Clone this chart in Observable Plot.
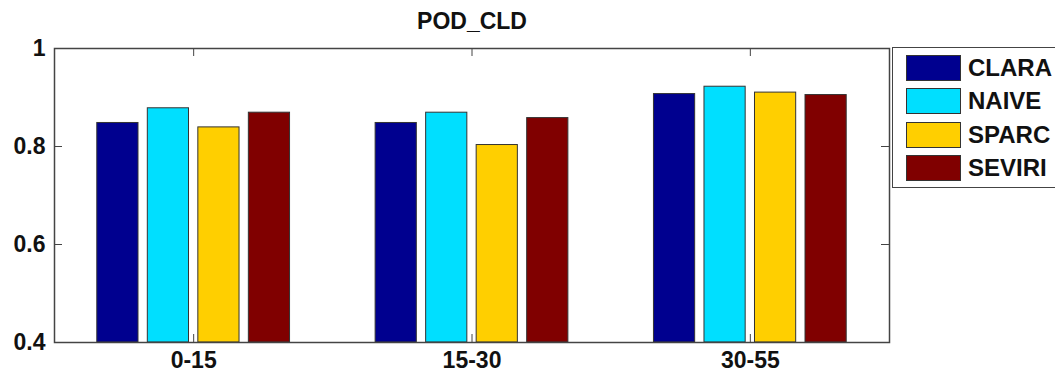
<!DOCTYPE html>
<html>
<head>
<meta charset="utf-8">
<script src="https://cdn.jsdelivr.net/npm/d3@7"></script>
<script src="https://cdn.jsdelivr.net/npm/@observablehq/plot@0.6"></script>
<style>
  html, body { margin: 0; padding: 0; background: #fff; overflow: hidden; }
  #wrap { position: relative; width: 1055px; height: 374px; font-family: "Liberation Sans", Arial, Helvetica, sans-serif; }
  #legend { position: absolute; left: 892px; top: 47px; width: 175px; height: 141px; border: 1.5px solid #444; box-sizing: border-box; background: #fff; }
  .sw { position: absolute; left: 13px; width: 55px; height: 26px; border: 1px solid #333; box-sizing: border-box; }
  .lb { position: absolute; left: 75px; font-size: 24px; line-height: 26px; color: #111; white-space: nowrap; font-weight: bold; }
</style>
</head>
<body>
<div id="wrap"></div>
<script>
const title = "POD_CLD";
const groups = ["0-15", "15-30", "30-55"];
const series = ["CLARA", "NAIVE", "SPARC", "SEVIRI"];
const CLARA  = [0.848, 0.848, 0.907];
const NAIVE  = [0.878, 0.869, 0.922];
const SPARC  = [0.839, 0.803, 0.910];
const SEVIRI = [0.869, 0.858, 0.905];
const colors = ["#00008F", "#00DFFF", "#FFCF00", "#800000"];
const yTicks = [0.4, 0.6, 0.8, 1];
const yTickLabels = ["0.4", "0.6", "0.8", "1"];

const values = {CLARA, NAIVE, SPARC, SEVIRI};
const step = 0.1815, barW = 0.148;
const rows = [];
groups.forEach((g, gi) => {
  series.forEach((s, si) => {
    const c = gi + 1 + (si - (series.length - 1) / 2) * step;
    rows.push({group: g, series: s, value: values[s][gi], x1: c - barW / 2, x2: c + barW / 2});
  });
});
const xTicks = groups.map((g, i) => i + 1);

const W = 1055, H = 374, mL = 54, mR = 166, mT = 48, mB = 32;
const pw = W - mL - mR, ph = H - mT - mB;
const tickLen = 8;
const fs = 23;

const chart = Plot.plot({
  width: W, height: H,
  marginLeft: mL, marginRight: mR, marginTop: mT, marginBottom: mB,
  x: {domain: [0.5, 3.5], axis: null},
  y: {domain: [0.4, 1], axis: null},
  color: {domain: series, range: colors},
  style: {fontFamily: "'Liberation Sans', Arial, Helvetica, sans-serif", fontSize: fs + "px", color: "#111", background: "#fff"},
  marks: [
    Plot.rectY(rows, {x1: "x1", x2: "x2", y1: 0.4, y2: "value", fill: "series", stroke: "#333", strokeWidth: 1}),
    Plot.ruleY(yTicks, {stroke: "#444", insetRight: pw - tickLen}),
    Plot.ruleY(yTicks, {stroke: "#444", insetLeft: pw - tickLen}),
    Plot.ruleX(xTicks, {stroke: "#444", insetTop: ph - tickLen}),
    Plot.ruleX(xTicks, {stroke: "#444", insetBottom: ph - tickLen}),
    Plot.frame({stroke: "#444", strokeWidth: 1.5}),
    Plot.axisY(yTicks, {anchor: "left", label: null, tickSize: 0, tickPadding: 9, tickFormat: d => yTickLabels[yTicks.indexOf(d)], fontSize: fs, fontWeight: "bold"}),
    Plot.axisX(xTicks, {anchor: "bottom", label: null, tickSize: 0, tickPadding: 9, tickFormat: d => groups[d - 1], fontSize: fs, fontWeight: "bold"}),
    Plot.text([title], {frameAnchor: "top", dy: -27, lineAnchor: "middle", fontSize: fs, fontWeight: "bold", fill: "#111"})
  ]
});

const wrap = document.getElementById("wrap");
wrap.appendChild(chart);

const legend = document.createElement("div");
legend.id = "legend";
series.forEach((s, i) => {
  const top = 7 + i * 33.4;
  const sw = document.createElement("div");
  sw.className = "sw";
  sw.style.top = top + "px";
  sw.style.background = colors[i];
  const lb = document.createElement("div");
  lb.className = "lb";
  lb.style.top = top + "px";
  lb.textContent = s;
  legend.appendChild(sw);
  legend.appendChild(lb);
});
wrap.appendChild(legend);
</script>
</body>
</html>
